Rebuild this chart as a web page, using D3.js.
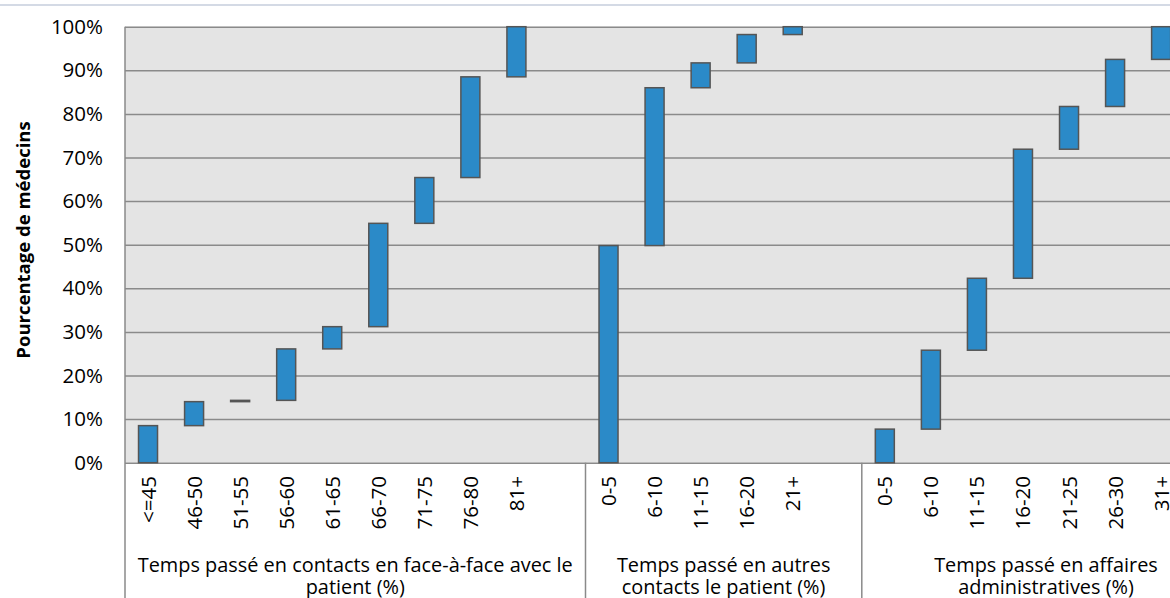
<!DOCTYPE html>
<html>
  <head>
    <script src="https://cdn.jsdelivr.net/npm/d3@7"></script>
    <style>
      body { margin: 0; background: #fff; }
      text { font-family: "Open Sans", sans-serif; fill: #000; }
    </style>
  </head>
  <body>
    <svg id="chart" width="1170" height="598"></svg>
    <script>
    // three groups of floating bars (low / high share of doctors)
    var groupTitles = [
      ["Temps passé en contacts en face-à-face avec le", "patient (%)"],
      ["Temps passé en autres", "contacts le patient (%)"],
      ["Temps passé en affaires", "administratives (%)"]
    ];

    var cats1 = ["<=45", "46-50", "51-55", "56-60", "61-65", "66-70", "71-75", "76-80", "81+"];
    var low1  = [0, 0.085, 0.140, 0.143, 0.261, 0.312, 0.549, 0.654, 0.885];
    var high1 = [0.085, 0.140, 0.143, 0.261, 0.312, 0.549, 0.654, 0.885, 1.0];

    var cats2 = ["0-5", "6-10", "11-15", "16-20", "21+"];
    var low2  = [0, 0.498, 0.860, 0.917, 0.982];
    var high2 = [0.498, 0.860, 0.917, 0.982, 1.0];

    var cats3 = ["0-5", "6-10", "11-15", "16-20", "21-25", "26-30", "31+"];
    var low3  = [0, 0.077, 0.258, 0.423, 0.719, 0.817, 0.925];
    var high3 = [0.077, 0.258, 0.423, 0.719, 0.817, 0.925, 1.0];

    var yTicks = [0, 0.1, 0.2, 0.3, 0.4, 0.5, 0.6, 0.7, 0.8, 0.9, 1.0];

    var groups = [
      {cats: cats1, low: low1, high: high1, title: groupTitles[0]},
      {cats: cats2, low: low2, high: high2, title: groupTitles[1]},
      {cats: cats3, low: low3, high: high3, title: groupTitles[2]}
    ];

    // each group gets one empty slot after it
    var slots = [], bars = [];
    groups.forEach(function(g, gi){
      g.first = slots.length;
      g.cats.forEach(function(c, i){
        var key = gi + ":" + c;
        slots.push(key);
        bars.push({key: key, label: c, low: g.low[i], high: g.high[i]});
      });
      slots.push(gi + ":gap");
      g.last = slots.length;
    });

    var svg = d3.select("#chart");
    var plotLeft = 125, plotTop = 26.7, plotBottom = 462.7, step = 46.05;

    var x = d3.scaleBand()
      .domain(slots)
      .range([plotLeft, plotLeft + slots.length * step]);

    var y = d3.scaleLinear()
      .domain([0, 1])
      .range([plotBottom, plotTop]);

    var plotWidth = x.range()[1] - plotLeft;

    // thin rule at the very top of the figure
    svg.append("line")
      .attr("x1", 0).attr("x2", 1170)
      .attr("y1", 5).attr("y2", 5)
      .style("stroke", "#a9b6cb").style("stroke-width", 1.2);

    svg.append("rect")
      .attr("x", plotLeft).attr("y", plotTop)
      .attr("width", plotWidth).attr("height", plotBottom - plotTop)
      .style("fill", "#e4e4e4");

    var yAxis = svg.append("g")
      .attr("transform", "translate(" + plotLeft + ",0)")
      .call(d3.axisLeft(y).tickValues(yTicks).tickFormat(d3.format(".0%"))
        .tickSize(-plotWidth).tickPadding(22));
    yAxis.select(".domain").remove();
    yAxis.selectAll(".tick line").style("stroke", "#8a8a8a").style("stroke-width", 1.5);
    yAxis.selectAll(".tick text")
      .style("font-size", "20.5px").style("font-family", "'Open Sans', sans-serif").attr("fill", "#000");

    // left border of plot and label area
    svg.append("line")
      .attr("x1", plotLeft).attr("x2", plotLeft)
      .attr("y1", plotTop).attr("y2", 598)
      .style("stroke", "#8a8a8a").style("stroke-width", 1.5);

    // group separators under the axis
    groups.slice(1).forEach(function(g){
      var sx = x(slots[g.first]);
      svg.append("line")
        .attr("x1", sx).attr("x2", sx)
        .attr("y1", plotBottom).attr("y2", 598)
        .style("stroke", "#8a8a8a").style("stroke-width", 1.5);
    });

    var bw = 19;
    svg.append("g").selectAll("rect")
      .data(bars)
      .enter().append("rect")
      .attr("x", function(d){ return x(d.key) + x.bandwidth() / 2 - bw / 2; })
      .attr("y", function(d){ return y(d.high); })
      .attr("width", bw)
      .attr("height", function(d){ return Math.max(0.5, y(d.low) - y(d.high)); })
      .style("fill", "#2b8ac8")
      .style("stroke", "#555")
      .style("stroke-width", 1.5);

    // rotated category labels
    svg.append("g").selectAll("text")
      .data(bars)
      .enter().append("text")
      .attr("transform", function(d){
        return "translate(" + (x(d.key) + x.bandwidth() / 2 + 7.5) + "," + 476 + ") rotate(-90)";
      })
      .attr("text-anchor", "end")
      .style("font-size", "20.5px")
      .text(function(d){ return d.label; });

    // group titles
    groups.forEach(function(g){
      var cx = (x(slots[g.first]) + x(slots[g.last - 1]) + x.bandwidth()) / 2;
      var t = svg.append("text")
        .attr("text-anchor", "middle")
        .style("font-size", "19.9px");
      g.title.forEach(function(line, i){
        t.append("tspan").attr("x", cx).attr("y", 572 + i * 22).text(line);
      });
    });

    svg.append("text")
      .attr("transform", "translate(30,240) rotate(-90)")
      .attr("text-anchor", "middle")
      .style("font-size", "18.5px")
      .style("font-weight", "bold")
      .text("Pourcentage de médecins");
    </script>
  </body>
</html>
